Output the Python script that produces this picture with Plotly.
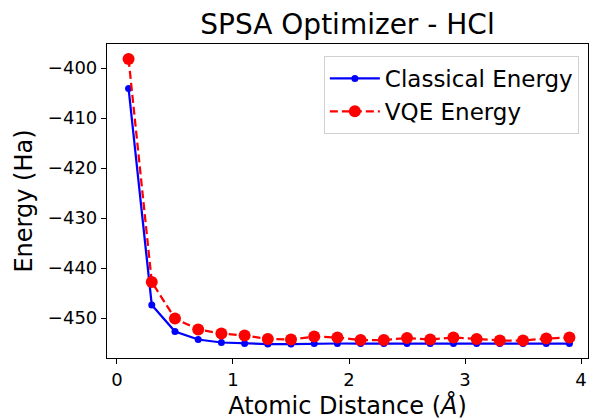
import plotly.graph_objects as go

distance = [0.1, 0.3, 0.5, 0.7, 0.9, 1.1, 1.3, 1.5, 1.7, 1.9, 2.1, 2.3, 2.5, 2.7, 2.9, 3.1, 3.3, 3.5, 3.7, 3.9]
classical_energy = [-404.1, -447.4, -452.7, -454.3, -454.9, -455.1, -455.2, -455.2, -455.1, -455.1,
                    -455.1, -455.1, -455.1, -455.1, -455.1, -455.1, -455.1, -455.1, -455.1, -455.1]
vqe_energy = [-398.2, -442.8, -450.1, -452.3, -453.1, -453.5, -454.2, -454.3, -453.7, -453.9,
              -454.4, -454.4, -454.0, -454.3, -453.9, -454.2, -454.5, -454.5, -454.1, -453.9]
x_ticks = [0, 1, 2, 3, 4]
y_ticks = [-450, -440, -430, -420, -410, -400]

FONT = "DejaVu Sans"

fig = go.Figure()
fig.add_trace(go.Scatter(
    x=distance, y=classical_energy, name="Classical Energy", mode="lines+markers",
    line=dict(color="#0000ff", width=2.25), marker=dict(color="#0000ff", size=7),
))
fig.add_trace(go.Scatter(
    x=distance, y=vqe_energy, name="VQE Energy", mode="lines+markers",
    line=dict(color="#ff0000", width=2.25, dash="8px,4px"), marker=dict(color="#ff0000", size=12),
))

axis_common = dict(
    showgrid=False, zeroline=False, showline=True, linecolor="black", linewidth=1.2,
    mirror=True, ticks="outside", ticklen=5, tickcolor="black", tickwidth=1.2,
    tickfont=dict(family=FONT, size=18, color="black"), automargin=False,
)

fig.update_layout(
    width=589, height=420,
    paper_bgcolor="white", plot_bgcolor="white",
    margin=dict(l=107, r=1, t=44, b=62),
    title=dict(text="SPSA Optimizer - HCl", x=0.5, xref="paper", xanchor="center",
               y=0.943, yref="container", yanchor="middle",
               font=dict(family=FONT, size=28, color="black")),
    font=dict(family=FONT, color="black"),
    showlegend=True,
    legend=dict(x=0.981, y=0.962, xanchor="right", yanchor="top",
                bordercolor="#d0d0d0", borderwidth=1, bgcolor="rgba(255,255,255,0.8)",
                font=dict(family=FONT, size=23, color="black"), tracegroupgap=0,
                itemwidth=50),
)
fig.update_xaxes(**axis_common, range=[-0.086, 4.06], tickvals=x_ticks,
                 title=dict(text="Atomic Distance (<i>Å</i>)", font=dict(family=FONT, size=24), standoff=10))
fig.update_yaxes(**axis_common, range=[-458.0, -395.2], tickvals=y_ticks,
                 ticktext=["\u2212" + str(abs(v)) for v in y_ticks],
                 title=dict(text="Energy (Ha)", font=dict(family=FONT, size=24), standoff=8))

fig.write_html("out.html", config={"displayModeBar": False},
               post_script="document.body.style.margin='0';document.body.style.padding='0';")
